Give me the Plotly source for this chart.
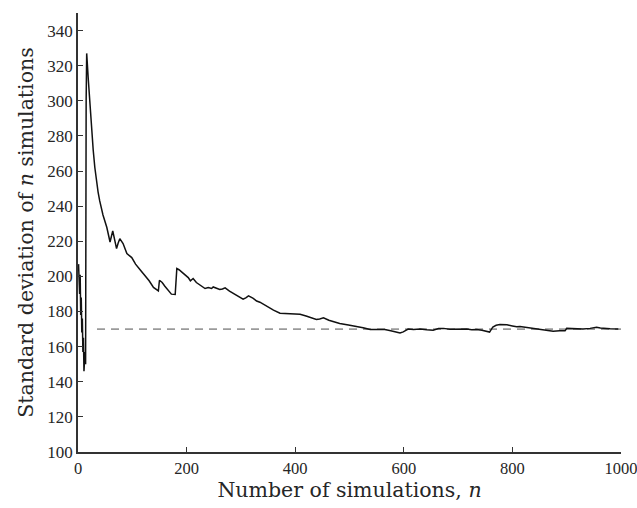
import plotly.graph_objects as go

# Running standard deviation
n_sims = [1, 2, 3, 4, 5, 6, 7, 8, 9, 10, 11, 12, 13, 14, 15, 16, 19, 22, 25, 28, 31, 34,
          37, 40, 46, 53, 59, 64, 68, 71, 74, 77, 83, 90, 99, 106, 114, 123, 131, 139,
          148, 150, 155, 160, 166, 172, 179, 182, 186, 191, 197, 203, 207, 212, 218,
          225, 234, 240, 246, 249, 255, 261, 266, 271, 279, 286, 295, 304, 309, 314,
          322, 329, 335, 347, 360, 372, 382, 390, 400, 409, 420, 430, 439, 445, 452,
          462, 472, 482, 498, 513, 525, 538, 552, 565, 576, 587, 593, 599, 604, 608,
          618, 630, 642, 654, 664, 673, 685, 700, 716, 725, 734, 744, 753, 758, 764,
          770, 777, 790, 800, 808, 814, 826, 839, 850, 862, 875, 887, 897, 900, 915,
          930, 943, 955, 962, 967, 980, 995]
std_dev = [207, 199, 190, 201, 178, 188, 168, 176, 157, 165, 146, 152, 157, 150, 300,
           327, 312, 297, 285, 272, 262, 254, 248, 243, 235, 228, 219.6, 225.9, 219.5,
           215.8, 219, 221.5, 218.7, 213, 210.7, 207, 203.9, 200.7, 197.5, 193.7,
           191.7, 197.8, 196.5, 194.4, 192, 189.9, 189.7, 204.5, 203.8, 202.5, 200.8,
           199.3, 197.5, 198.8, 196.5, 195, 193.1, 193.6, 193.1, 194, 193.3, 192.5,
           192.8, 193.5, 191.6, 190.3, 188.5, 187, 187.8, 188.9, 187.6, 186, 185.3,
           183, 180.8, 179, 178.8, 178.5, 178.7, 178.4, 177.4, 176.5, 175.5, 175.8,
           176.4, 175, 174, 173.2, 172.3, 171.7, 170.8, 169.8, 169.6, 169.8, 169,
           168.1, 167.8, 168.4, 169.3, 170, 169.7, 170, 169.6, 169.4, 170.3, 170.4,
           169.9, 170.1, 170, 169.6, 169.8, 169.3, 168.8, 168.3, 171.2, 172.2, 172.6,
           172.4, 171.8, 171.3, 171.5, 170.9, 170.4, 169.9, 169.3, 168.8, 169.1, 169,
           170.4, 170.1, 170, 170.4, 171, 170.6, 170.4, 170.2, 170]

ref_x = [35, 1000]
ref_value = 170

x_ticks = [0, 200, 400, 600, 800, 1000]
y_ticks = [100, 120, 140, 160, 180, 200, 220, 240, 260, 280, 300, 320, 340]

TICK_FONT = "Liberation Serif"
TITLE_FONT = "DejaVu Serif"
TXT = "#262626"

fig = go.Figure()
fig.add_trace(go.Scatter(
    x=ref_x, y=[ref_value] * len(ref_x), mode="lines",
    line=dict(color="#9a9a9a", width=1.6, dash="8px,6px"),
    hoverinfo="skip", showlegend=False))
fig.add_trace(go.Scatter(
    x=n_sims, y=std_dev, mode="lines",
    line=dict(color="#111111", width=1.5),
    showlegend=False))

fig.update_layout(
    width=637, height=508,
    margin=dict(l=78, r=16, t=13, b=56, autoexpand=False),
    paper_bgcolor="white", plot_bgcolor="white",
    font=dict(family=TICK_FONT, size=17, color=TXT),
)
fig.update_xaxes(
    range=[0, 1000], tickvals=x_ticks, ticktext=[str(v) for v in x_ticks],
    ticks="inside", ticklen=5, tickwidth=1, tickcolor="#333333",
    showline=True, linecolor="#333333", linewidth=1.5, mirror=False,
    showgrid=False, zeroline=False, automargin=False,
    ticklabeloverflow="allow",
    tickfont=dict(family=TICK_FONT, size=16.5, color=TXT),
    title=dict(text="Number of simulations, <i>n</i>", standoff=4,
               font=dict(family=TITLE_FONT, size=20.5, color=TXT)),
)
fig.update_yaxes(
    range=[100, 350], tickvals=y_ticks, ticktext=[str(v) for v in y_ticks],
    ticks="inside", ticklen=5, tickwidth=1, tickcolor="#333333",
    showline=True, linecolor="#333333", linewidth=1.5, mirror=False,
    showgrid=False, zeroline=False, automargin=False,
    tickfont=dict(family=TICK_FONT, size=17, color=TXT),
    title=dict(text="Standard deviation of <i>n</i> simulations", standoff=8,
               font=dict(family=TITLE_FONT, size=20.5, color=TXT)),
)

fig.write_html(
    "out.html",
    config={"displayModeBar": False},
    post_script="document.body.style.margin='0';document.body.style.overflow='hidden';",
)
